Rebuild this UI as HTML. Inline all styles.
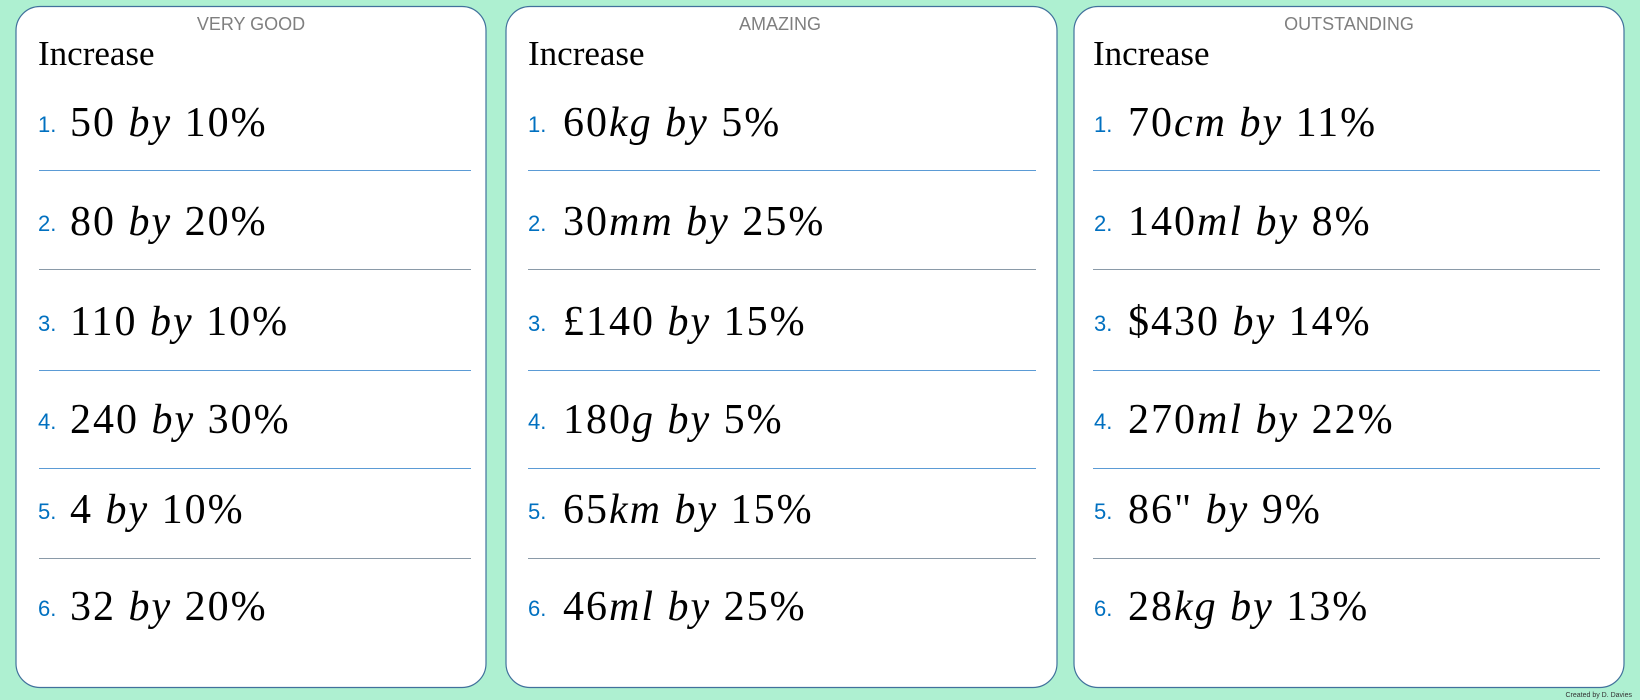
<!DOCTYPE html>
<html><head><meta charset="utf-8"><style>
html,body{margin:0;padding:0;background:#aef0d1;}
svg{display:block}
.t{font-family:"Liberation Sans",sans-serif;font-size:18px;fill:#7f7f7f;text-anchor:middle}
.h{font-family:"Liberation Serif",serif;font-size:35px;fill:#000}
.n{font-family:"Liberation Sans",sans-serif;font-size:22px;fill:#0070c0}
.m{font-family:"Liberation Serif",serif;font-size:42px;letter-spacing:2px;fill:#000}
.i{font-style:italic}
</style></head><body>
<svg width="1640" height="700" viewBox="0 0 1640 700" xmlns="http://www.w3.org/2000/svg">
<rect width="1640" height="700" fill="#aef0d1"/>
<g fill="#fff" stroke="#41719c" stroke-width="1.2">
<rect x="16" y="6.5" width="470" height="681" rx="24"/>
<rect x="506" y="6.5" width="551" height="681" rx="24"/>
<rect x="1074" y="6.5" width="550" height="681" rx="24"/>
</g>
<text class="t" x="251" y="30">VERY GOOD</text>
<text class="t" x="780" y="30">AMAZING</text>
<text class="t" x="1349" y="30">OUTSTANDING</text>
<text class="h" x="38" y="65">Increase</text>
<text class="h" x="528" y="65">Increase</text>
<text class="h" x="1093" y="65">Increase</text>
<g stroke="#5b9bd5" stroke-width="1">
<line x1="39" x2="471" y1="170.5" y2="170.5"/><line x1="39" x2="471" y1="269.5" y2="269.5" stroke="#8a9aa8"/><line x1="39" x2="471" y1="370.5" y2="370.5"/><line x1="39" x2="471" y1="468.5" y2="468.5"/><line x1="39" x2="471" y1="558.5" y2="558.5" stroke="#8a9aa8"/>
<line x1="528" x2="1036" y1="170.5" y2="170.5"/><line x1="528" x2="1036" y1="269.5" y2="269.5" stroke="#8a9aa8"/><line x1="528" x2="1036" y1="370.5" y2="370.5"/><line x1="528" x2="1036" y1="468.5" y2="468.5"/><line x1="528" x2="1036" y1="558.5" y2="558.5" stroke="#8a9aa8"/>
<line x1="1093" x2="1600" y1="170.5" y2="170.5"/><line x1="1093" x2="1600" y1="269.5" y2="269.5" stroke="#8a9aa8"/><line x1="1093" x2="1600" y1="370.5" y2="370.5"/><line x1="1093" x2="1600" y1="468.5" y2="468.5"/><line x1="1093" x2="1600" y1="558.5" y2="558.5" stroke="#8a9aa8"/>
</g>
<g>
<text class="n" x="38" y="132">1.</text><text class="m" x="70" y="136">50 <tspan class="i">by</tspan> 10%</text>
<text class="n" x="38" y="231">2.</text><text class="m" x="70" y="235">80 <tspan class="i">by</tspan> 20%</text>
<text class="n" x="38" y="331">3.</text><text class="m" x="70" y="335">110 <tspan class="i">by</tspan> 10%</text>
<text class="n" x="38" y="429">4.</text><text class="m" x="70" y="433">240 <tspan class="i">by</tspan> 30%</text>
<text class="n" x="38" y="519">5.</text><text class="m" x="70" y="523">4 <tspan class="i">by</tspan> 10%</text>
<text class="n" x="38" y="616">6.</text><text class="m" x="70" y="620">32 <tspan class="i">by</tspan> 20%</text>
</g>
<g>
<text class="n" x="528" y="132">1.</text><text class="m" x="563" y="136">60<tspan class="i">kg by</tspan> 5%</text>
<text class="n" x="528" y="231">2.</text><text class="m" x="563" y="235">30<tspan class="i">mm by</tspan> 25%</text>
<text class="n" x="528" y="331">3.</text><text class="m" x="563" y="335">£140 <tspan class="i">by</tspan> 15%</text>
<text class="n" x="528" y="429">4.</text><text class="m" x="563" y="433">180<tspan class="i">g by</tspan> 5%</text>
<text class="n" x="528" y="519">5.</text><text class="m" x="563" y="523">65<tspan class="i">km by</tspan> 15%</text>
<text class="n" x="528" y="616">6.</text><text class="m" x="563" y="620">46<tspan class="i">ml by</tspan> 25%</text>
</g>
<g>
<text class="n" x="1094" y="132">1.</text><text class="m" x="1128" y="136">70<tspan class="i">cm by</tspan> 11%</text>
<text class="n" x="1094" y="231">2.</text><text class="m" x="1128" y="235">140<tspan class="i">ml by</tspan> 8%</text>
<text class="n" x="1094" y="331">3.</text><text class="m" x="1128" y="335">$430 <tspan class="i">by</tspan> 14%</text>
<text class="n" x="1094" y="429">4.</text><text class="m" x="1128" y="433">270<tspan class="i">ml by</tspan> 22%</text>
<text class="n" x="1094" y="519">5.</text><text class="m" x="1128" y="523">86" <tspan class="i">by</tspan> 9%</text>
<text class="n" x="1094" y="616">6.</text><text class="m" x="1128" y="620">28<tspan class="i">kg by</tspan> 13%</text>
</g>
<text x="1632" y="697" text-anchor="end" font-family="Liberation Sans,sans-serif" font-size="7" fill="#333">Created by D. Davies</text>
</svg>
</body></html>
